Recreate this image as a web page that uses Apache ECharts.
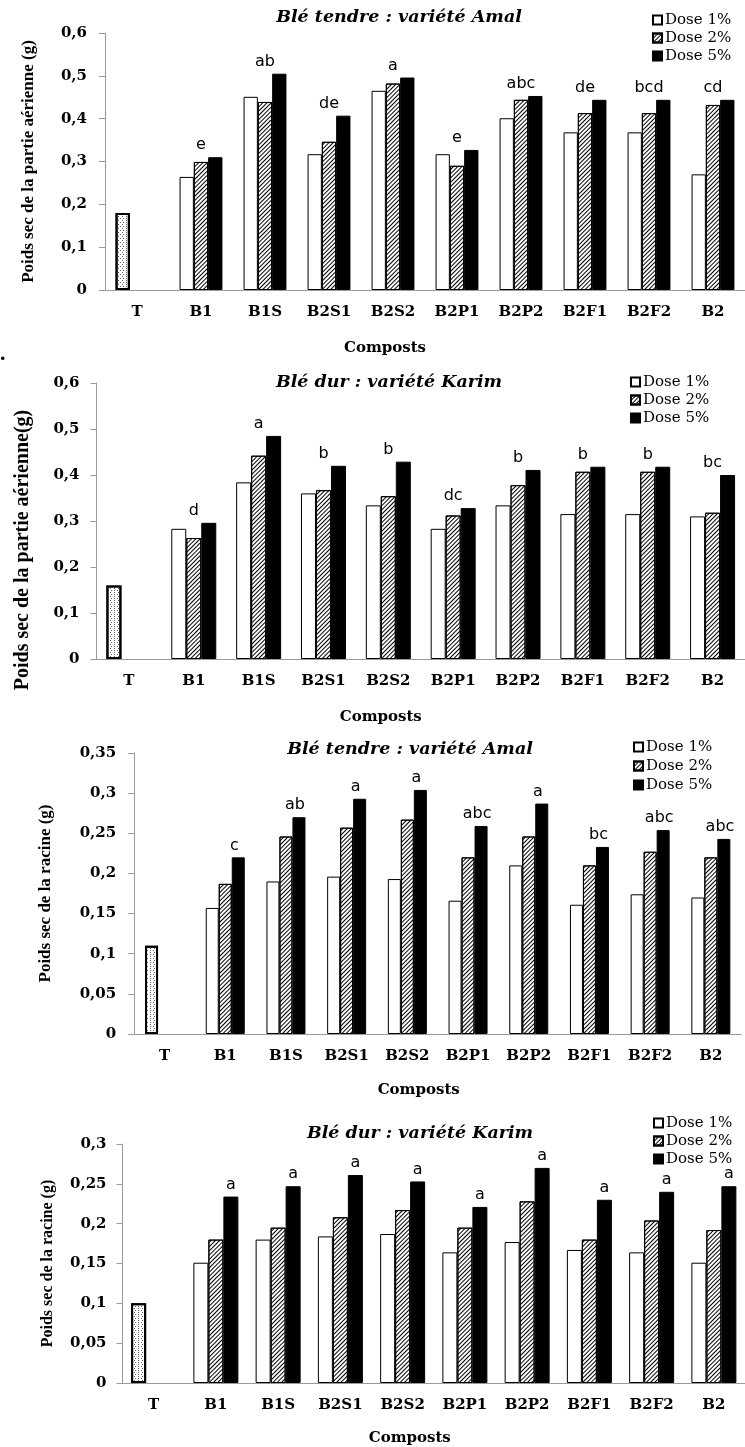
<!DOCTYPE html>
<html><head><meta charset="utf-8">
<script src="https://cdn.jsdelivr.net/npm/echarts@6/dist/echarts.min.js"></script>
<style>html,body{margin:0;padding:0;background:#fff}#c{width:745px;height:1447px}</style>
</head><body><div id="c"></div>
<script>
// ---------- data ----------
const categories = ['T','B1','B1S','B2S1','B2S2','B2P1','B2P2','B2F1','B2F2','B2'];
const seriesNames = ['Dose 1%','Dose 2%','Dose 5%'];
const xAxisTitle = 'Composts';

// Panel 1 : Blé tendre, partie aérienne
const p1Title = 'Blé tendre : variété Amal';
const p1YName = 'Poids sec de la partie aérienne (g)';
const p1YMax = 0.6, p1YStep = 0.1;
const p1Dose1 = [0.18, 0.264, 0.451, 0.317, 0.465, 0.317, 0.401, 0.368, 0.368, 0.27];
const p1Dose2 = [null, 0.299, 0.439, 0.346, 0.482, 0.29, 0.444, 0.413, 0.413, 0.432];
const p1Dose5 = [null, 0.31, 0.505, 0.407, 0.496, 0.327, 0.453, 0.444, 0.444, 0.444];
const p1Letters = ['', 'e', 'ab', 'de', 'a', 'e', 'abc', 'de', 'bcd', 'cd'];

// Panel 2 : Blé dur, partie aérienne
const p2Title = 'Blé dur : variété Karim';
const p2YName = 'Poids sec de la partie aérienne(g)';
const p2YMax = 0.6, p2YStep = 0.1;
const p2Dose1 = [0.16, 0.283, 0.384, 0.36, 0.334, 0.283, 0.334, 0.315, 0.315, 0.31];
const p2Dose2 = [null, 0.263, 0.442, 0.367, 0.354, 0.312, 0.378, 0.407, 0.407, 0.318];
const p2Dose5 = [null, 0.296, 0.485, 0.42, 0.429, 0.328, 0.411, 0.418, 0.418, 0.40];
const p2Letters = ['', 'd', 'a', 'b', 'b', 'dc', 'b', 'b', 'b', 'bc'];

// Panel 3 : Blé tendre, racine
const p3Title = 'Blé tendre : variété Amal';
const p3YName = 'Poids sec de la racine (g)';
const p3YMax = 0.35, p3YStep = 0.05;
const p3Dose1 = [0.11, 0.157, 0.19, 0.196, 0.193, 0.166, 0.21, 0.161, 0.174, 0.17];
const p3Dose2 = [null, 0.187, 0.246, 0.257, 0.267, 0.22, 0.246, 0.21, 0.227, 0.22];
const p3Dose5 = [null, 0.22, 0.27, 0.293, 0.304, 0.259, 0.287, 0.233, 0.254, 0.243];
const p3Letters = ['', 'c', 'ab', 'a', 'a', 'abc', 'a', 'bc', 'abc', 'abc'];

// Panel 4 : Blé dur, racine
const p4Title = 'Blé dur : variété Karim';
const p4YName = 'Poids sec de la racine (g)';
const p4YMax = 0.3, p4YStep = 0.05;
const p4Dose1 = [0.10, 0.151, 0.18, 0.184, 0.187, 0.164, 0.177, 0.167, 0.164, 0.151];
const p4Dose2 = [null, 0.18, 0.195, 0.208, 0.217, 0.195, 0.228, 0.18, 0.204, 0.192];
const p4Dose5 = [null, 0.234, 0.247, 0.261, 0.253, 0.221, 0.27, 0.23, 0.24, 0.247];
const p4Letters = ['', 'a', 'a', 'a', 'a', 'a', 'a', 'a', 'a', 'a'];

// ---------- layout / styles ----------
const panels = [
  {title:p1Title, yName:p1YName, yMax:p1YMax, yStep:p1YStep, d:[p1Dose1,p1Dose2,p1Dose5], letters:p1Letters,
   grid:{left:105, top:33, width:644, height:257}, bw:14.3, titleX:399, titleTop:8, legendLeft:652, legendTop:12.5, legendGap:3,
   yNameSize:17, yNameGap:68, yNamePad:0, labelMargin:18, xNameGap:51, xNameShift:40, letterDx:-1},
  {title:p2Title, yName:p2YName, yMax:p2YMax, yStep:p2YStep, d:[p2Dose1,p2Dose2,p2Dose5], letters:p2Letters,
   grid:{left:96.5, top:383, width:660, height:276}, bw:15, titleX:389, titleTop:373, legendLeft:630, legendTop:374.5, legendGap:3,
   yNameSize:20, yNameGap:64, yNamePad:58, labelMargin:17, xNameGap:51, xNameShift:40, letterDx:-1},
  {title:p3Title, yName:p3YName, yMax:p3YMax, yStep:p3YStep, d:[p3Dose1,p3Dose2,p3Dose5], letters:p3Letters,
   grid:{left:134.2, top:753, width:607, height:281}, bw:13, titleX:410, titleTop:740, legendLeft:633, legendTop:739.5, legendGap:4,
   yNameSize:17, yNameGap:80, yNamePad:0, labelMargin:18, xNameGap:49, xNameShift:19, letterDx:-0.3},
  {title:p4Title, yName:p4YName, yMax:p4YMax, yStep:p4YStep, d:[p4Dose1,p4Dose2,p4Dose5], letters:p4Letters,
   grid:{left:122.5, top:1144, width:641, height:239}, bw:15, titleX:420, titleTop:1124, legendLeft:653, legendTop:1115.5, legendGap:3,
   yNameSize:16, yNameGap:67, yNamePad:0, labelMargin:16, xNameGap:48, xNameShift:24, letterDx:0}
];

const axisGray = '#9a9a9a';
const hatchDecal = {symbol:'rect', symbolSize:1, color:'#000', dashArrayX:[1,0], dashArrayY:[1,1.6], rotation:-Math.PI/4};
const dotDecal = {symbol:'rect', symbolSize:1, color:'#6a6a6a', dashArrayX:[[1,2],[0,1.5,1,0.5]], dashArrayY:[1,1]};
const seriesStyles = [
  {color:'#fff', borderColor:'#000', borderWidth:1},
  {color:'#fff', borderColor:'#000', borderWidth:1, decal:hatchDecal},
  {color:'#000', borderColor:'#000', borderWidth:1}
];
const controlStyle = {color:'#fff', borderColor:'#000', borderWidth:2, decal:dotDecal};

const fmt = v => String(Math.round(v*100)/100).replace('.', ',');

const option = {
  animation:false,
  backgroundColor:'#fff',
  title:[], legend:[], grid:[], xAxis:[], yAxis:[], series:[],
  graphic:[{type:'text', left:0, top:343, style:{text:'.', font:'bold 22px "Liberation Serif"', fill:'#000'}}]
};

panels.forEach((p, i) => {
  option.title.push({text:p.title, left:p.titleX, top:p.titleTop, textAlign:'center', padding:0,
    textStyle:{fontFamily:'DejaVu Serif', fontStyle:'italic', fontWeight:'bold', fontSize:17.5, color:'#000'}});
  option.legend.push({data:seriesNames, orient:'vertical', left:p.legendLeft, top:p.legendTop, padding:0,
    itemWidth:9, itemHeight:9, itemGap:p.legendGap, icon:'rect', selectedMode:false,
    textStyle:{fontFamily:'DejaVu Serif', fontSize:15, color:'#000', padding:[0,0,0,-2]}});
  option.grid.push(Object.assign({containLabel:false}, p.grid));
  option.xAxis.push({gridIndex:i, type:'category', data:categories,
    axisLine:{lineStyle:{color:axisGray, width:1}}, axisTick:{show:false},
    axisLabel:{fontFamily:'DejaVu Serif', fontWeight:'bold', fontSize:15, color:'#000', margin:15},
    name:xAxisTitle, nameLocation:'middle', nameGap:p.xNameGap,
    nameTextStyle:{fontFamily:'DejaVu Serif', fontWeight:'bold', fontSize:15, color:'#000', padding:[0, 2*p.xNameShift, 0, 0]}});
  option.yAxis.push({gridIndex:i, type:'value', min:0, max:p.yMax, interval:p.yStep,
    axisLine:{show:true, lineStyle:{color:axisGray, width:1}},
    axisTick:{show:true, length:6, lineStyle:{color:axisGray}},
    splitLine:{show:false},
    axisLabel:{fontFamily:'DejaVu Serif', fontWeight:'bold', fontSize:15, color:'#000', margin:p.labelMargin, formatter:fmt},
    name:p.yName, nameLocation:'middle', nameGap:p.yNameGap,
    nameTextStyle:{fontFamily:'Liberation Serif', fontWeight:'bold', fontSize:p.yNameSize, color:'#000', padding:[0, p.yNamePad, 0, 0]}});
  seriesNames.forEach((name, k) => {
    const data = p.d[k].map((v, j) => (k === 0 && j === 0) ? {value:v, itemStyle:controlStyle} : v);
    const s = {type:'bar', name:name, xAxisIndex:i, yAxisIndex:i, data:data, barWidth:p.bw, barGap:'0%',
      itemStyle:seriesStyles[k], emphasis:{disabled:true}};
    if (k === 2) {
      s.label = {show:true, position:'top', distance:4, offset:[p.letterDx*p.bw, 0],
        formatter:q => p.letters[q.dataIndex], fontFamily:'DejaVu Sans', fontSize:16, color:'#000'};
    }
    option.series.push(s);
  });
});

const chart = echarts.init(document.getElementById('c'), null, {renderer:'canvas'});
chart.setOption(option);
</script>
</body></html>
